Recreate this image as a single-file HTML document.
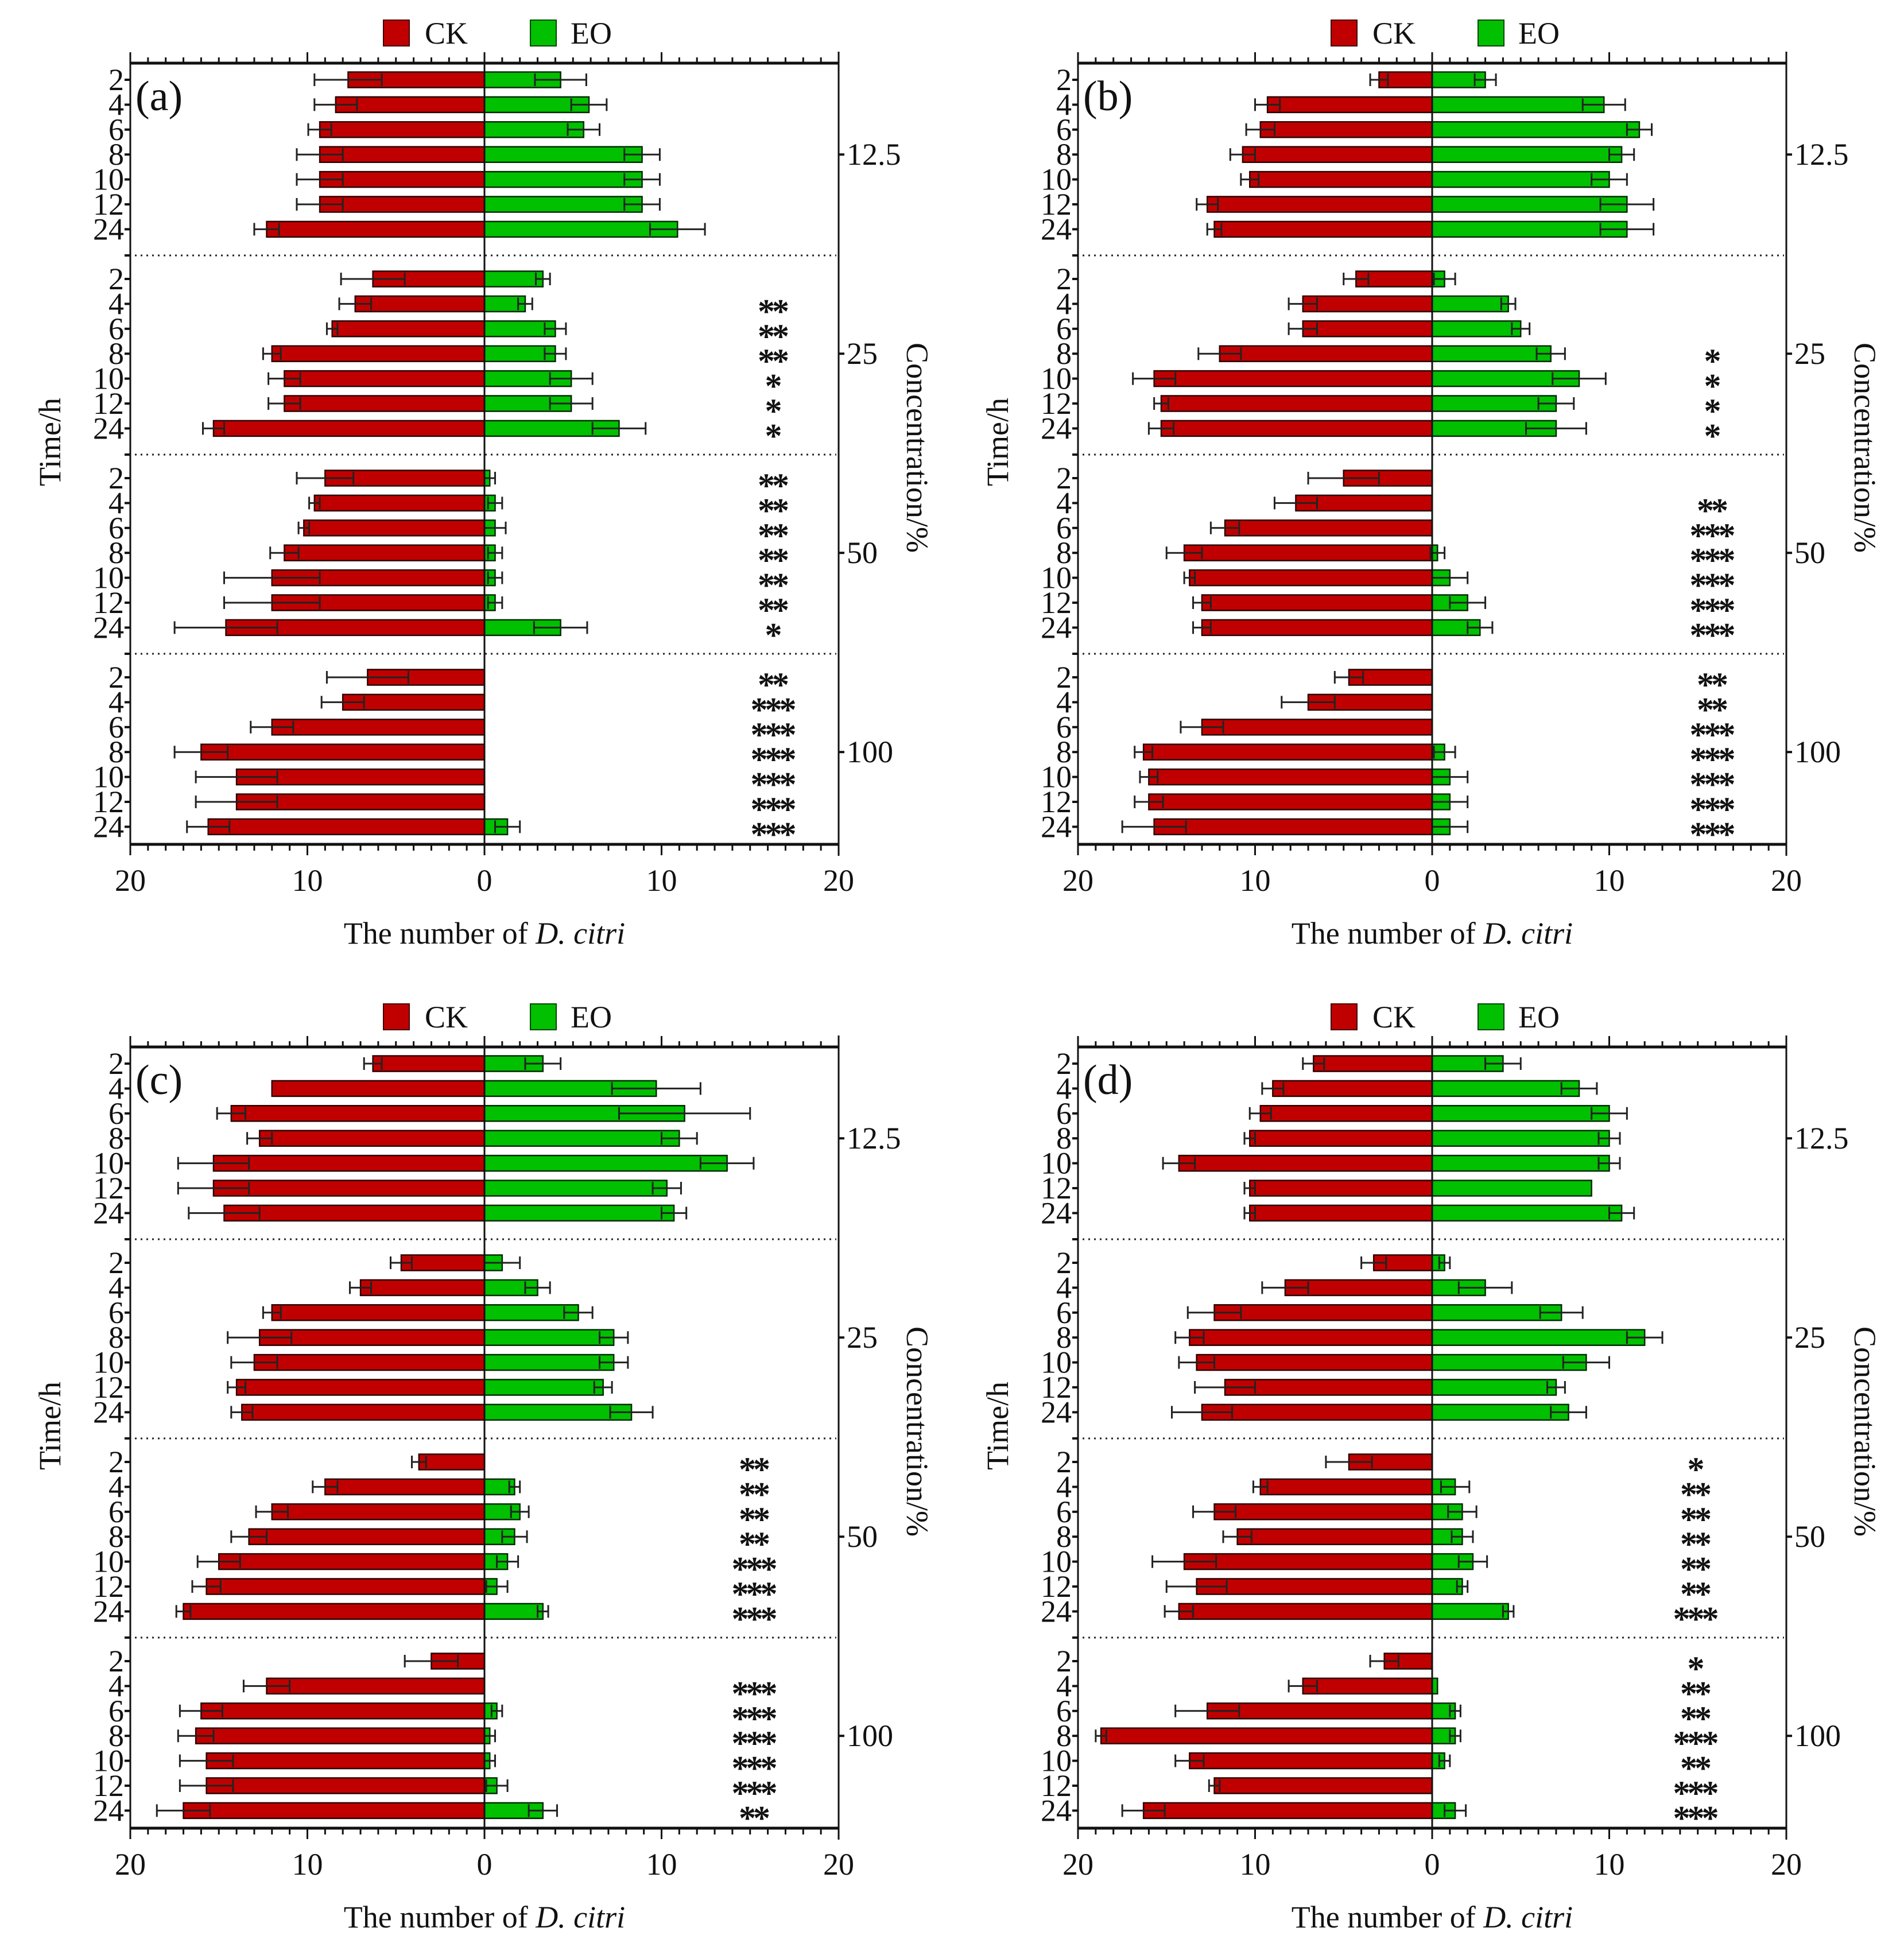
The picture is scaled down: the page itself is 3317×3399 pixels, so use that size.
<!DOCTYPE html>
<html><head><meta charset="utf-8"><style>
html,body{margin:0;padding:0;background:#fff;}
svg{display:block;}
svg text{font-family:"Liberation Serif","Times New Roman",serif;fill:#111;}
</style></head><body>
<svg id="fig" width="3317" height="3399" viewBox="0 0 3317 3399" font-family="Liberation Serif, serif" xmlns="http://www.w3.org/2000/svg"></svg>
<script>
// ---- data ----
const times = ["2","4","6","8","10","12","24"];
const concentrations = ["12.5","25","50","100"];
const xTicks = [20,10,0,10,20];
const panelLabels = ["(a)","(b)","(c)","(d)"];

const ckA = [7.7,8.4,9.3,9.3,9.3,9.3,12.3, 6.3,7.3,8.6,12,11.3,11.3,15.3, 9,9.6,10.2,11.3,12,12,14.6, 6.6,8,12,16,14,14,15.6];
const eoA = [4.3,5.9,5.6,8.9,8.9,8.9,10.9, 3.3,2.3,4,4,4.9,4.9,7.6, 0.3,0.6,0.6,0.6,0.6,0.6,4.3, 0,0,0,0,0,0,1.3];
const ckErrA = [1.9,1.2,0.65,1.3,1.3,1.3,0.7, 1.8,0.9,0.3,0.5,0.9,0.9,0.6, 1.6,0.3,0.3,0.8,2.7,2.7,2.9, 2.3,1.2,1.2,1.5,2.3,2.3,1.2];
const eoErrA = [1.45,1,0.9,1,1,1,1.55, 0.4,0.4,0.6,0.6,1.2,1.2,1.5, 0.3,0.4,0.6,0.4,0.4,0.4,1.5, 0,0,0,0,0,0,0.7];
const starsA = ["","","","","","","", "","**","**","**","*","*","*", "**","**","**","**","**","**","*", "**","***","***","***","***","***","***"];

const ckB = [3,9.3,9.7,10.7,10.3,12.7,12.3, 4.3,7.3,7.3,12,15.7,15.3,15.3, 5,7.7,11.7,14,13.7,13,13, 4.7,7,13,16.3,16,16,15.7];
const eoB = [3,9.7,11.7,10.7,10,11,11, 0.7,4.3,5,6.7,8.3,7,7, 0,0,0,0.3,1,2,2.7, 0,0,0,0.7,1,1,1];
const ckErrB = [0.5,0.7,0.8,0.7,0.5,0.6,0.4, 0.7,0.8,0.8,1.2,1.2,0.4,0.7, 2,1.2,0.8,1,0.3,0.5,0.5, 0.8,1.5,1.2,0.5,0.5,0.8,1.8];
const eoErrB = [0.6,1.2,0.7,0.7,1,1.5,1.5, 0.6,0.4,0.5,0.8,1.5,1,1.7, 0,0,0,0.4,1,1,0.7, 0,0,0,0.6,1,1,1];
const starsB = ["","","","","","","", "","","","*","*","*","*", "","**","***","***","***","***","***", "**","**","***","***","***","***","***"];

const ckC = [6.3,12,14.3,12.7,15.3,15.3,14.7, 4.7,7,12,12.7,13,14,13.7, 3.7,9,12,13.3,15,15.7,17, 3,12.3,16,16.3,15.7,15.7,17];
const eoC = [3.3,9.7,11.3,11,13.7,10.3,10.7, 1,3,5.3,7.3,7.3,6.7,8.3, 0,1.7,2,1.7,1.3,0.7,3.3, 0,0,0.7,0.3,0.3,0.7,3.3];
const ckErrC = [0.5,0,0.8,0.7,2,2,2, 0.6,0.6,0.5,1.8,1.3,0.5,0.6, 0.4,0.7,0.9,1,1.2,0.8,0.4, 1.5,1.3,1.2,1,1.5,1.5,1.5];
const eoErrC = [1,2.5,3.7,1,1.5,0.8,0.7, 1,0.7,0.8,0.8,0.8,0.5,1.2, 0,0.3,0.5,0.7,0.6,0.6,0.3, 0,0,0.3,0.3,0.3,0.6,0.8];
const starsC = ["","","","","","","", "","","","","","","", "**","**","**","**","***","***","***", "","***","***","***","***","***","**"];

const ckD = [6.7,9,9.7,10.3,14.3,10.3,10.3, 3.3,8.3,12.3,13.7,13.3,11.7,13, 4.7,9.7,12.3,11,14,13.3,14.3, 2.7,7.3,12.7,18.7,13.7,12.3,16.3];
const eoD = [4,8.3,10,10,10,9,10.7, 0.7,3,7.3,12,8.7,7,7.7, 0,1.3,1.7,1.7,2.3,1.7,4.3, 0,0.3,1.3,1.3,0.7,0,1.3];
const ckErrD = [0.6,0.6,0.6,0.3,0.9,0.3,0.3, 0.7,1.3,1.5,0.8,1,1.7,1.7, 1.3,0.4,1.2,0.8,1.8,1.7,0.8, 0.8,0.8,1.8,0.3,0.8,0.3,1.2];
const eoErrD = [1,1,1,0.6,0.6,0,0.7, 0.3,1.5,1.2,1,1.3,0.5,1, 0,0.8,0.8,0.6,0.8,0.3,0.3, 0,0,0.3,0.3,0.3,0,0.6];
const starsD = ["","","","","","","", "","","","","","","", "*","**","**","**","**","**","***", "*","**","**","***","**","***","***"];

// ---- layout ----
const NS = "http://www.w3.org/2000/svg";
const svg = document.getElementById('fig');
function el(tag, attrs, parent, txt){
  const e = document.createElementNS(NS, tag);
  for (const k in attrs) e.setAttribute(k, attrs[k]);
  if (tag === 'text') e.setAttribute('font-family', '"Liberation Serif", serif');
  if (txt !== undefined) e.textContent = txt;
  (parent || svg).appendChild(e);
  return e;
}
const DX = 1651, DY = 1714;
const L0 = 227, Z0 = 844, R0 = 1461, T0 = 110, B0 = 1471;
const UNIT = (R0 - Z0) / 20;
const GROUP = 347, FIRST = 29, STEP = 43.4, BARH = 27;
const FS = 54;

const panels = [
  {ck:ckA, eo:eoA, ce:ckErrA, ee:eoErrA, st:starsA, ox:0, oy:0, starOff:501},
  {ck:ckB, eo:eoB, ce:ckErrB, ee:eoErrB, st:starsB, ox:DX, oy:0, starOff:486},
  {ck:ckC, eo:eoC, ce:ckErrC, ee:eoErrC, st:starsC, ox:0, oy:DY, starOff:468},
  {ck:ckD, eo:eoD, ce:ckErrD, ee:eoErrD, st:starsD, ox:DX, oy:DY, starOff:457}
];

panels.forEach((p, pi) => {
  const g = el('g', {transform:`translate(${p.ox},${p.oy})`});
  
  
  const xs = v => Z0 + v * UNIT;
  const yb = i => T0 + Math.floor(i/7)*GROUP + FIRST + (i%7)*STEP;

  // legend
  const lg = el('g', {}, g);
  
  
  const l1 = el('rect', {x:668, y:35, width:45, height:45, fill:'#c00000', stroke:'#400', 'stroke-width':2}, lg);
  
  
  const t1 = el('text', {x:740, y:76, 'font-size':FS}, lg, 'CK');
  
  
  const l2 = el('rect', {x:924, y:35, width:45, height:45, fill:'#00c000', stroke:'#040', 'stroke-width':2}, lg);
  
  
  const t2 = el('text', {x:994, y:76, 'font-size':FS}, lg, 'EO');
  
  

  // dotted separators
  for (let k = 1; k < 4; k++) {
    const y = T0 + k*GROUP - 12;
    const d1 = el('line', {x1:L0+8, x2:R0-4, y1:y, y2:y, stroke:'#222', 'stroke-width':3, 'stroke-dasharray':'3,7'}, g);
    
    
    el('line', {x1:L0-10, x2:L0, y1:y, y2:y, stroke:'#111', 'stroke-width':4}, g);
  }

  // bars
  for (let i = 0; i < 28; i++) {
    const yc = yb(i);
    const ckv = p.ck[i], eov = p.eo[i];
    if (ckv > 0) {
      const r = el('rect', {x:xs(-ckv), y:yc-BARH/2, width:ckv*UNIT, height:BARH, fill:'#c00000', stroke:'#2a0000', 'stroke-width':2.5}, g);
      
      
      const e = p.ce[i];
      if (e > 0) {
        const a = xs(-ckv - e), b = xs(-ckv + e);
        const eb = el('path', {d:`M${a},${yc}H${b}M${a},${yc-11}V${yc+11}M${b},${yc-11}V${yc+11}`, stroke:'#222', 'stroke-width':3, fill:'none'}, g);
        
        
      }
    }
    if (eov > 0) {
      const r = el('rect', {x:Z0, y:yc-BARH/2, width:eov*UNIT, height:BARH, fill:'#00c000', stroke:'#002a00', 'stroke-width':2.5}, g);
      
      
      const e = p.ee[i];
      if (e > 0) {
        const a = xs(eov - e), b = xs(eov + e);
        const eb = el('path', {d:`M${a},${yc}H${b}M${a},${yc-11}V${yc+11}M${b},${yc-11}V${yc+11}`, stroke:'#222', 'stroke-width':3, fill:'none'}, g);
        
        
      }
    }
    el('line', {x1:L0-10, x2:L0, y1:yc, y2:yc, stroke:'#111', 'stroke-width':4}, g);
    const tl = el('text', {x:L0-11, y:yc+18, 'font-size':FS, 'text-anchor':'end'}, g, times[i%7]);
    
    
    if (p.st[i]) {
      const s = el('text', {x:Z0+p.starOff, y:yc+33, 'font-size':60, 'font-weight':'bold', 'text-anchor':'middle', 'letter-spacing':'-5'}, g, p.st[i]);
      
      
    }
  }

  // axes frame
  el('line', {x1:L0, x2:L0, y1:T0, y2:B0, stroke:'#111', 'stroke-width':3}, g);
  el('line', {x1:R0, x2:R0, y1:T0-20, y2:B0+20, stroke:'#111', 'stroke-width':3}, g);
  el('line', {x1:Z0, x2:Z0, y1:T0, y2:B0, stroke:'#111', 'stroke-width':3}, g);
  el('line', {x1:L0, x2:R0, y1:T0, y2:T0, stroke:'#111', 'stroke-width':5}, g);
  el('line', {x1:L0, x2:R0, y1:B0, y2:B0, stroke:'#111', 'stroke-width':5}, g);
  for (let v = -20; v <= 20; v++) {
    const x = xs(v), major = (v % 10 === 0);
    el('line', {x1:x, x2:x, y1:T0, y2:T0-(major?19:10), stroke:'#111', 'stroke-width':3}, g);
    el('line', {x1:x, x2:x, y1:B0, y2:B0+(major?19:11), stroke:'#111', 'stroke-width':3}, g);
  }
  xTicks.forEach((t, k) => {
    const tx = el('text', {x:xs(-20 + k*10), y:1552, 'font-size':FS, 'text-anchor':'middle'}, g, String(t));
    
    
  });
  const xt = el('text', {x:Z0, y:1644, 'font-size':FS, 'text-anchor':'middle'}, g);
  
  
  el('tspan', {}, xt, 'The number of ');
  el('tspan', {'font-style':'italic'}, xt, 'D. citri');

  concentrations.forEach((c, k) => {
    const y = T0 + k*GROUP + FIRST + 3*STEP;
    el('line', {x1:R0, x2:R0+10, y1:y, y2:y, stroke:'#111', 'stroke-width':4}, g);
    const ct = el('text', {x:R0+14, y:y+18, 'font-size':FS}, g, c);
    
    
  });
  const yt = el('text', {x:0, y:0, 'font-size':FS, 'text-anchor':'middle', transform:'translate(105,770) rotate(-90)'}, g, 'Time/h');
  
  
  const rt = el('text', {x:0, y:0, 'font-size':FS, 'text-anchor':'middle', transform:'translate(1580,780) rotate(90)'}, g, 'Concentration/%');
  
  
  const pl = el('text', {x:236, y:192, 'font-size':74}, g, panelLabels[pi]);
  
  
});
</script>
</body></html>
